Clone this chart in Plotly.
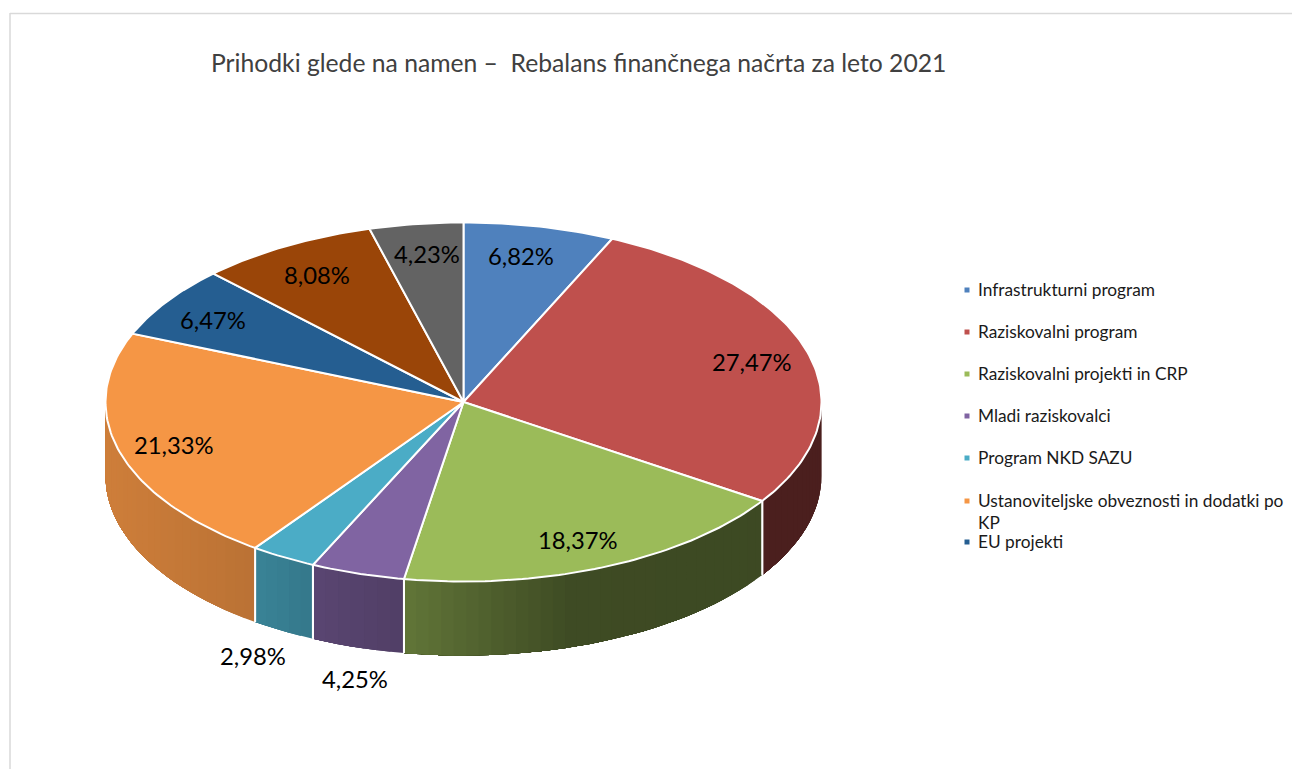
import math
import numpy as np
import plotly.graph_objects as go

TITLE = "Prihodki glede na namen –  Rebalans finančnega načrta za leto 2021"
categories = ["Infrastrukturni program", "Raziskovalni program", "Raziskovalni projekti in CRP",
              "Mladi raziskovalci", "Program NKD SAZU",
              "Ustanoviteljske obveznosti in dodatki po<br>KP", "EU projekti", None, None]
values = [6.82, 27.47, 18.37, 4.25, 2.98, 21.33, 6.47, 8.08, 4.23]
value_labels = ["6,82%", "27,47%", "18,37%", "4,25%", "2,98%", "21,33%", "6,47%", "8,08%", "4,23%"]

colors = ["#4F81BD", "#BF504D", "#9BBB59", "#8064A2", "#4BACC6", "#F59645", "#255E91", "#9A4508", "#636363"]

# projection of the tilted disc, in pixels
CX, CY, RX, RY, DEPTH = 463.5, 402.0, 358.0, 179.5, 74.0
# label centres in pixels (placed by hand like the source's best-fit labels)
label_xy = [(521, 256), (752, 362), (578, 540), (355, 679), (253, 656),
            (174, 445), (213, 320), (317, 275), (427, 254)]
# legend rows in pixels
LEGEND_KEY_X, LEGEND_TEXT_X = 967, 976
legend_y = [290, 332, 374, 416, 458, 501, 542]
legend_text_y = [289, 331, 373, 415, 457, 511, 541]
# side shading: darkness factor as a function of screen x
SHADE_X = [106, 255, 312, 403, 570, 830]
SHADE_F = [0.84, 0.76, 0.70, 0.63, 0.40, 0.39]
FONT = "Lato"


def pt(a):
    return CX + RX * math.sin(a), CY - RY * math.cos(a)


def shade(hex_color, x):
    f = float(np.interp(x, SHADE_X, SHADE_F))
    r, g, b = (int(hex_color[i:i + 2], 16) for i in (1, 3, 5))
    return f"rgb({r * f:.0f},{g * f:.0f},{b * f:.0f})"


total = sum(values)
edges = np.cumsum([0] + values) / total * 2 * math.pi
fig = go.Figure()

# rim of the disc, front half only: each strip reaches to the end of its slice's rim
# and the next one paints over it, so no background shows between neighbours
for v, c, a0, a1 in zip(values, colors, edges[:-1], edges[1:]):
    lo, hi = max(a0, math.pi / 2), min(a1, 3 * math.pi / 2)
    if lo >= hi:
        continue
    n = max(2, int((hi - lo) / math.radians(2)))
    ts = np.linspace(lo, hi, n + 1)
    for k in range(n):
        pts = [pt(t) for t in ts[k:]]
        col = shade(c, (pt(ts[k])[0] + pt(ts[k + 1])[0]) / 2)
        xs = [p[0] for p in pts] + [p[0] for p in pts[::-1]] + [pts[0][0]]
        ys = [p[1] for p in pts] + [p[1] + DEPTH for p in pts[::-1]] + [pts[0][1]]
        fig.add_trace(go.Scatter(x=xs, y=ys, mode="lines", fill="toself", fillcolor=col,
                                 line=dict(width=0), showlegend=False, hoverinfo="skip"))
    # white separators on the rim
    for t in (a0, a1):
        if math.pi / 2 < t < 3 * math.pi / 2:
            p = pt(t)
            fig.add_trace(go.Scatter(x=[p[0], p[0]], y=[p[1], p[1] + DEPTH], mode="lines",
                                     line=dict(color="white", width=2),
                                     showlegend=False, hoverinfo="skip"))

# top face
for i, (v, c, a0, a1) in enumerate(zip(values, colors, edges[:-1], edges[1:])):
    ts = np.linspace(a0, a1, max(3, int((a1 - a0) / math.radians(1)) + 1))
    xs = [CX] + [pt(t)[0] for t in ts] + [CX]
    ys = [CY] + [pt(t)[1] for t in ts] + [CY]
    fig.add_trace(go.Scatter(x=xs, y=ys, mode="lines", fill="toself", fillcolor=c,
                             line=dict(color="white", width=2), showlegend=False,
                             name=categories[i] or "", text=value_labels[i], hoverinfo="text+name"))

# legend keys and texts
named = [(n, c) for n, c in zip(categories, colors) if n is not None]
for (name, c), ky, ty in zip(named, legend_y, legend_text_y):
    fig.add_trace(go.Scatter(x=[LEGEND_KEY_X], y=[ky], mode="markers", showlegend=False, hoverinfo="skip",
                             marker=dict(symbol="square", size=5, color=c, line=dict(width=0))))
    fig.add_annotation(x=LEGEND_TEXT_X, y=ty, text=name, showarrow=False, xanchor="left", yanchor="middle",
                       align="left", font=dict(family=FONT, size=17.3, color="#1a1a1a"))

for txt, (x, y) in zip(value_labels, label_xy):
    fig.add_annotation(x=x, y=y, text=txt, showarrow=False, xanchor="center", yanchor="middle",
                       font=dict(family=FONT, size=23.8, color="#000000"))

fig.add_annotation(x=209, y=62, text=TITLE, showarrow=False, xanchor="left", yanchor="middle",
                   font=dict(family=FONT, size=24.7, color="#404040"))

# chart frame
fig.add_shape(type="line", x0=10, x1=1292, y0=13.5, y1=13.5, line=dict(color="#D9D9D9", width=1.5))
fig.add_shape(type="line", x0=10, x1=10, y0=13, y1=769, line=dict(color="#D9D9D9", width=1.5))

fig.update_layout(
    width=1292, height=769, margin=dict(l=0, r=0, t=0, b=0), showlegend=False,
    paper_bgcolor="white", plot_bgcolor="white",
    xaxis=dict(range=[0, 1292], visible=False, fixedrange=True),
    yaxis=dict(range=[769, 0], visible=False, fixedrange=True),
)
fig.write_html("out.html", config={"displayModeBar": False},
               post_script="document.body.style.margin='0';document.body.style.overflow='hidden';")
